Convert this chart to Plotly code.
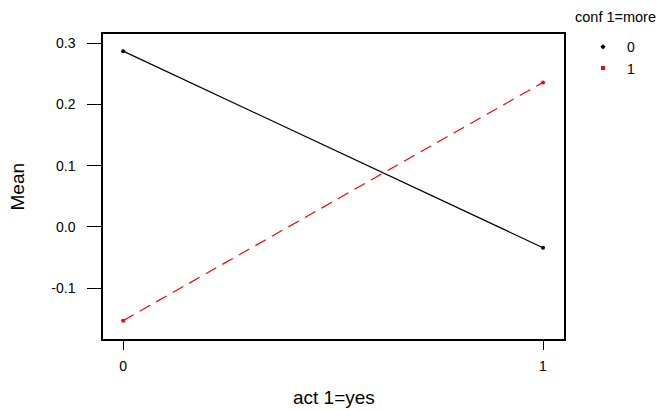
import plotly.graph_objects as go

act = [0, 1]
groups = ["0", "1"]
means = {
    "0": [0.287, -0.034],
    "1": [-0.153, 0.236],
}
y_ticks = [-0.1, 0.0, 0.1, 0.2, 0.3]
y_ticktext = ["-0.1", "0.0", "0.1", "0.2", "0.3"]
x_ticktext = ["0", "1"]

colors = {"0": "black", "1": "red"}
dashes = {"0": "solid", "1": "12px,7px"}
symbols = {"0": "diamond", "1": "square"}

FONT = "Liberation Sans, Arial, sans-serif"

fig = go.Figure()
for g in groups:
    fig.add_trace(go.Scatter(
        x=act, y=means[g], mode="lines+markers",
        line=dict(color=colors[g], width=1.2, dash=dashes[g]),
        marker=dict(color=colors[g], size=4, symbol="circle"),
        showlegend=False,
    ))
    fig.add_trace(go.Scatter(
        x=[None], y=[None], mode="markers", name=g,
        marker=dict(color=colors[g], size=4, symbol=symbols[g]),
        showlegend=True,
    ))

fig.update_layout(
    template="none",
    width=665, height=410,
    margin=dict(l=95, r=109, t=26, b=79, autoexpand=False),
    plot_bgcolor="white", paper_bgcolor="white",
    font=dict(family=FONT, size=14, color="black"),
    legend=dict(
        x=1.0325, xanchor="left", y=1.009, yanchor="top",
        font=dict(size=14), bgcolor="rgba(0,0,0,0)",
        itemwidth=38, tracegroupgap=0,
    ),
    xaxis=dict(
        range=[-0.048, 1.05], tickvals=act, ticktext=x_ticktext,
        showgrid=False, zeroline=False, showline=True, mirror=True,
        linecolor="black", linewidth=1.5, ticks="outside", ticklen=9,
        tickwidth=1, tickcolor="black", tickfont=dict(size=14),
        ticklabelstandoff=4, automargin=False,
    ),
    yaxis=dict(
        range=[-0.183, 0.315], tickvals=y_ticks, ticktext=y_ticktext,
        showgrid=False, zeroline=False, showline=True, mirror=True,
        linecolor="black", linewidth=1.5, ticks="outside", ticklen=14,
        tickwidth=1, tickcolor="black", tickfont=dict(size=14),
        ticklabelstandoff=9, automargin=False,
    ),
    annotations=[
        dict(text="Mean", textangle=-90, xref="paper", yref="paper",
             x=0, y=0.5, xanchor="center", yanchor="middle", xshift=-86,
             showarrow=False, font=dict(size=19)),
        dict(text="act 1=yes", xref="paper", yref="paper",
             x=0.5, y=0, xanchor="center", yanchor="middle", yshift=-58,
             showarrow=False, font=dict(size=19)),
        dict(text="conf 1=more", xref="paper", yref="paper",
             x=1, y=1, xanchor="left", yanchor="middle", xshift=9, yshift=17,
             showarrow=False, font=dict(size=14.5)),
    ],
)

fig.write_html("out.html")
